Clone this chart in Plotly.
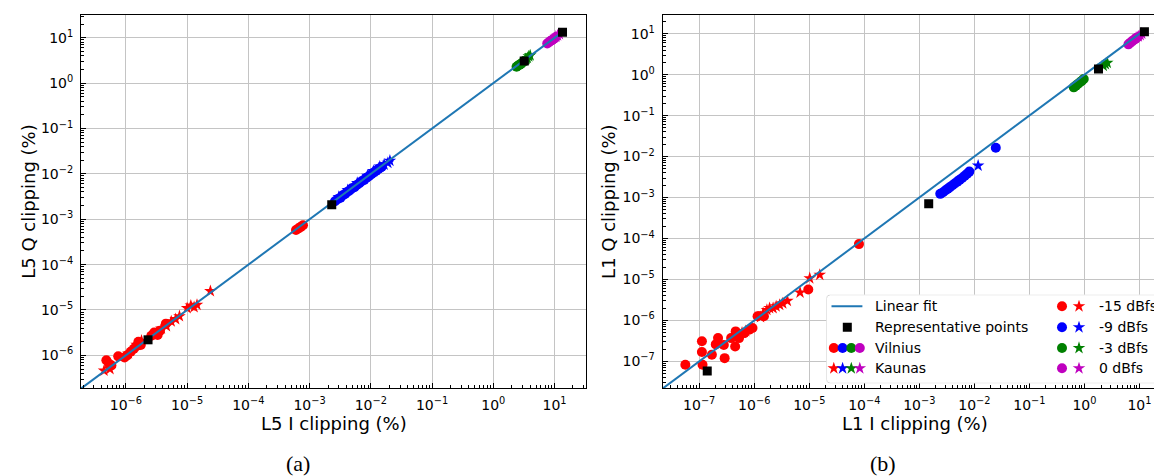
import numpy as np
import plotly.graph_objects as go

W, H = 1162, 476

# ---------------- data: panel (a) L5 ----------------
a_v15_x = [4.8e-7, 5.3e-7, 5.8e-7, 7.5e-7, 9.5e-7, 1.05e-6, 1.2e-6, 1.35e-6, 1.5e-6, 1.6e-6, 1.75e-6,
           2.6e-6, 2.9e-6, 3.1e-6, 3.3e-6, 3.6e-6, 4.5e-6, 6.0e-4, 6.6e-4, 7.2e-4, 7.8e-4]
a_v15_y = [7.8e-7, 6.5e-7, 6.0e-7, 9.5e-7, 9.0e-7, 1.0e-6, 1.2e-6, 1.4e-6, 1.6e-6, 2.0e-6, 1.7e-6,
           2.7e-6, 3.2e-6, 3.0e-6, 2.8e-6, 3.5e-6, 5.0e-6, 5.8e-4, 6.3e-4, 6.8e-4, 7.4e-4]
a_k15_x = [4.4e-7, 5.5e-7, 1.1e-6, 1.5e-6, 1.8e-6, 3.8e-6, 4.6e-6, 5.5e-6, 6.5e-6, 7.5e-6,
           1.0e-5, 1.15e-5, 1.3e-5, 1.45e-5, 2.4e-5]
a_k15_y = [4.6e-7, 5.0e-7, 1.1e-6, 1.7e-6, 2.1e-6, 3.9e-6, 4.4e-6, 5.6e-6, 6.3e-6, 7.3e-6,
           1.1e-5, 1.25e-5, 1.15e-5, 1.3e-5, 2.6e-5]
a_v9_x = [2.6e-3, 2.9e-3, 3.2e-3, 3.5e-3, 3.8e-3, 4.1e-3, 4.5e-3, 4.9e-3, 5.4e-3, 5.9e-3,
          6.5e-3, 7.1e-3, 7.8e-3, 8.5e-3, 9.3e-3, 1.02e-2, 1.12e-2, 1.23e-2, 1.35e-2, 1.5e-2]
a_v9_y = [2.5e-3, 2.8e-3, 3.0e-3, 3.4e-3, 3.6e-3, 4.0e-3, 4.3e-3, 4.8e-3, 5.1e-3, 5.7e-3,
          6.2e-3, 6.9e-3, 7.4e-3, 8.2e-3, 8.9e-3, 9.8e-3, 1.08e-2, 1.17e-2, 1.3e-2, 1.42e-2]
a_k9_x = [3.0e-3, 4.2e-3, 6.0e-3, 8.8e-3, 1.1e-2, 1.4e-2, 1.65e-2, 1.9e-2, 2.05e-2]
a_k9_y = [3.1e-3, 4.4e-3, 6.3e-3, 9.1e-3, 1.15e-2, 1.45e-2, 1.6e-2, 1.75e-2, 1.95e-2]
a_v3_x = [2.4, 2.55, 2.7, 2.85, 3.0, 3.3]
a_v3_y = [2.3, 2.45, 2.55, 2.7, 2.85, 3.1]
a_k3_x = [3.4, 3.6, 3.8, 4.0]
a_k3_y = [3.4, 3.6, 3.9, 4.1]
a_v0_x = [7.6, 8.1, 8.6, 9.2, 9.8, 10.4]
a_v0_y = [7.5, 8.0, 8.5, 9.0, 9.6, 10.2]
a_k0_x = [10.5, 11.2, 12.0]
a_k0_y = [10.6, 11.3, 12.1]
a_rep_x = [2.3e-6, 2.3e-3, 3.2, 13.5]
a_rep_y = [2.2e-6, 2.1e-3, 3.1, 13.3]

# ---------------- data: panel (b) L1 ----------------
b_v15_x = [5.6e-8, 1.12e-7, 1.12e-7, 1.15e-7, 1.7e-7, 2.0e-7, 2.2e-7, 2.8e-7, 2.9e-7, 3.8e-7,
           4.5e-7, 4.6e-7, 5.3e-7, 6.6e-7, 8.1e-7, 9.3e-7, 1.15e-6, 1.5e-6, 9.6e-6, 8.0e-5]
b_v15_y = [8.3e-8, 3.1e-7, 1.7e-7, 8.3e-8, 1.45e-7, 2.6e-7, 3.7e-7, 2.5e-7, 1.2e-7, 3.7e-7,
           2.3e-7, 5.4e-7, 3.7e-7, 4.9e-7, 5.9e-7, 6.5e-7, 1.26e-6, 1.26e-6, 5.7e-6, 7.3e-5]
b_k15_x = [6.0e-7, 7.0e-7, 1.3e-6, 1.45e-6, 1.7e-6, 1.9e-6, 2.2e-6, 2.5e-6, 2.9e-6, 3.3e-6,
           4.0e-6, 6.8e-6, 1.02e-5, 1.55e-5]
b_k15_y = [5.0e-7, 5.5e-7, 1.2e-6, 1.5e-6, 1.8e-6, 2.0e-6, 2.0e-6, 2.2e-6, 2.4e-6, 2.6e-6,
           3.0e-6, 4.8e-6, 1.07e-5, 1.3e-5]
b_v9_x = [2.4e-3, 2.7e-3, 3.0e-3, 3.3e-3, 3.6e-3, 4.0e-3, 4.4e-3, 4.9e-3, 5.4e-3, 6.0e-3,
          6.7e-3, 7.4e-3, 8.1e-3, 2.45e-2]
b_v9_y = [1.23e-3, 1.35e-3, 1.5e-3, 1.65e-3, 1.8e-3, 2.0e-3, 2.2e-3, 2.45e-3, 2.7e-3, 3.0e-3,
          3.4e-3, 3.8e-3, 4.3e-3, 1.65e-2]
b_k9_x = [1.17e-2]
b_k9_y = [6.0e-3]
b_v3_x = [0.64, 0.7, 0.76, 0.83, 0.9, 0.97]
b_v3_y = [0.49, 0.54, 0.59, 0.65, 0.71, 0.78]
b_k3_x = [2.2, 2.4, 2.6]
b_k3_y = [1.65, 1.8, 1.95]
b_v0_x = [6.3, 6.8, 7.3, 7.9, 8.5, 9.2]
b_v0_y = [5.5, 6.0, 6.5, 7.0, 7.6, 8.2]
b_k0_x = [9.5, 10.3, 11.0]
b_k0_y = [8.6, 9.3, 10.0]
b_rep_x = [1.4e-7, 1.48e-3, 1.8, 12.3]
b_rep_y = [5.8e-8, 7.1e-4, 1.37, 11.1]

# linear fit (log-log): slope, intercept
fit_slope = [1.0, 1.0]
fit_intercept = [0.0, 0.0]

tick_exps_a = [-6, -5, -4, -3, -2, -1, 0, 1]
tick_exps_b = [-7, -6, -5, -4, -3, -2, -1, 0, 1]

level_labels = ["-15 dBfs", "-9 dBfs", "-3 dBfs", "0 dBfs"]
level_colors = ["#ff0000", "#0000ff", "#008000", "#bf00bf"]
FIT_COLOR = "#1f77b4"
FONT = "DejaVu Sans"
CIRCLE_SIZE = 10
STAR_SIZE = 9.5

fig = go.Figure()

def pts(x, y, color, symbol, size, xa, ya):
    fig.add_trace(go.Scatter(x=x, y=y, mode="markers", xaxis=xa, yaxis=ya, showlegend=False,
                             marker=dict(color=color, symbol=symbol, size=size, line=dict(width=0))))

ranges = {
    "a": dict(x=[-6.733, 1.514], y=[-6.72, 1.51]),
    "b": dict(x=[-7.665, 1.5], y=[-7.65, 1.464]),
}

panels = [
    ("a", "x", "y", [(a_v15_x, a_v15_y), (a_v9_x, a_v9_y), (a_v3_x, a_v3_y), (a_v0_x, a_v0_y)],
     [(a_k15_x, a_k15_y), (a_k9_x, a_k9_y), (a_k3_x, a_k3_y), (a_k0_x, a_k0_y)], (a_rep_x, a_rep_y), 0),
    ("b", "x2", "y2", [(b_v15_x, b_v15_y), (b_v9_x, b_v9_y), (b_v3_x, b_v3_y), (b_v0_x, b_v0_y)],
     [(b_k15_x, b_k15_y), (b_k9_x, b_k9_y), (b_k3_x, b_k3_y), (b_k0_x, b_k0_y)], (b_rep_x, b_rep_y), 1),
]

for key, xa, ya, vil, kau, rep, i in panels:
    for (vx, vy), c in zip(vil, level_colors):
        pts(vx, vy, c, "circle", CIRCLE_SIZE, xa, ya)
    for (kx, ky), c in zip(kau, level_colors):
        pts(kx, ky, c, "star", STAR_SIZE, xa, ya)
    allx = np.concatenate([np.asarray(d[0]) for d in vil + kau] + [np.asarray(rep[0])])
    lx = np.array([ranges[key]["x"][0] - 0.5, np.log10(allx.max()) - 0.02])
    ly = fit_slope[i] * lx + fit_intercept[i]
    fig.add_trace(go.Scatter(x=10 ** lx, y=10 ** ly, mode="lines", xaxis=xa, yaxis=ya, showlegend=False,
                             line=dict(color=FIT_COLOR, width=2)))
    pts(rep[0], rep[1], "black", "square", 9, xa, ya)

def axis_style(domain, rng, exps, anchor):
    return dict(
        domain=domain, type="log", range=rng, anchor=anchor,
        tickmode="array", tickvals=[10.0 ** e for e in exps],
        ticktext=["10<sup>%s</sup>" % (str(e).replace("-", "\u2212")) for e in exps],
        showline=True, linecolor="black", linewidth=1, mirror=True,
        ticks="inside", ticklen=5, tickwidth=1, tickcolor="black",
        showgrid=True, gridcolor="#c4c4c4", gridwidth=1.2, zeroline=False,
        tickfont=dict(family=FONT, size=14, color="black"),
        minor=dict(ticks="inside", ticklen=3, tickwidth=0.8, tickcolor="black", showgrid=False, dtick="D1"),
        ticklabelstandoff=4,
    )

ydom = [1 - 380 / H, 1 - 6.7 / H]
fig.update_layout(
    width=W, height=H, margin=dict(l=0, r=0, t=0, b=0),
    paper_bgcolor="white", plot_bgcolor="white",
    xaxis=axis_style([73 / W, 578 / W], ranges["a"]["x"], tick_exps_a, "y"),
    yaxis=axis_style(ydom, ranges["a"]["y"], tick_exps_a, "x"),
    xaxis2=axis_style([654.6 / W, 1159 / W], ranges["b"]["x"], tick_exps_b, "y2"),
    yaxis2=axis_style(ydom, ranges["b"]["y"], tick_exps_b, "x2"),
    showlegend=False,
)

# ---------------- custom legend (panel b) ----------------
LX0, LX1, LY0, LY1 = 818.4, 1152.8, 286.7, 375.3
fig.update_layout(
    xaxis3=dict(domain=[LX0 / W, LX1 / W], range=[LX0, LX1], visible=False, anchor="y3", fixedrange=True),
    yaxis3=dict(domain=[1 - LY1 / H, 1 - LY0 / H], range=[LY1, LY0], visible=False, anchor="x3", fixedrange=True),
)
r = 4.0
t = np.linspace(0, np.pi / 2, 8)
corners = [(LX1 - r, LY0 + r, -np.pi / 2), (LX1 - r, LY1 - r, 0), (LX0 + r, LY1 - r, np.pi / 2), (LX0 + r, LY0 + r, np.pi)]
bx, by = [], []
for cx, cy, a0 in corners:
    bx += list(cx + r * np.cos(a0 + t))
    by += list(cy + r * np.sin(a0 + t))
bx.append(bx[0]); by.append(by[0])
fig.add_trace(go.Scatter(x=bx, y=by, xaxis="x3", yaxis="y3", mode="lines", fill="toself",
                         fillcolor="white", line=dict(color="#d0d0d0", width=1), showlegend=False))

rows = [298.3, 319.3, 340.0, 360.3]
fig.add_trace(go.Scatter(x=[823.5, 854.4], y=[rows[0]] * 2, xaxis="x3", yaxis="y3", mode="lines",
                         line=dict(color=FIT_COLOR, width=2), showlegend=False))
fig.add_trace(go.Scatter(x=[839.3], y=[rows[1]], xaxis="x3", yaxis="y3", mode="markers",
                         marker=dict(color="black", symbol="square", size=9), showlegend=False))
multi_x = [825.8, 834.6, 843.3, 851.8]
fig.add_trace(go.Scatter(x=multi_x, y=[rows[2]] * 4, xaxis="x3", yaxis="y3", mode="markers",
                         marker=dict(color=level_colors, symbol="circle", size=CIRCLE_SIZE, line=dict(width=0)), showlegend=False))
fig.add_trace(go.Scatter(x=multi_x, y=[rows[3]] * 4, xaxis="x3", yaxis="y3", mode="markers",
                         marker=dict(color=level_colors, symbol="star", size=STAR_SIZE, line=dict(width=0)), showlegend=False))
fig.add_trace(go.Scatter(x=[1054] * 4, y=rows, xaxis="x3", yaxis="y3", mode="markers",
                         marker=dict(color=level_colors, symbol="circle", size=CIRCLE_SIZE, line=dict(width=0)), showlegend=False))
fig.add_trace(go.Scatter(x=[1071] * 4, y=rows, xaxis="x3", yaxis="y3", mode="markers",
                         marker=dict(color=level_colors, symbol="star", size=STAR_SIZE, line=dict(width=0)), showlegend=False))

left_labels = ["Linear fit", "Representative points", "Vilnius", "Kaunas"]
ann = []
for lab, yy in zip(left_labels, rows):
    ann.append(dict(x=864.9, y=yy, xref="x3", yref="y3", text=lab, showarrow=False, xanchor="left",
                    yanchor="middle", font=dict(family=FONT, size=14, color="black")))
for lab, yy in zip(level_labels, rows):
    ann.append(dict(x=1088.8, y=yy, xref="x3", yref="y3", text=lab, showarrow=False, xanchor="left",
                    yanchor="middle", font=dict(family=FONT, size=14, color="black")))

# axis titles
def paper(x, y):
    return x / W, 1 - y / H
for text, x, y, ang in [("L5 I clipping (%)", 325.5, 415, 0), ("L1 I clipping (%)", 906.8, 415, 0),
                        ("L5 Q clipping (%)", 20.4, 193.4, -90), ("L1 Q clipping (%)", 600.5, 193.4, -90)]:
    px_, py_ = paper(x, y)
    ann.append(dict(x=px_, y=py_, xref="paper", yref="paper", text=text, showarrow=False, textangle=ang,
                    xanchor="center", yanchor="middle", font=dict(family=FONT, size=18, color="black")))
for text, x in [("(a)", 290.0), ("(b)", 874.8)]:
    px_, py_ = paper(x, 455.5)
    ann.append(dict(x=px_, y=py_, xref="paper", yref="paper", text=text, showarrow=False,
                    xanchor="center", yanchor="middle", font=dict(family="Liberation Serif", size=22, color="black")))
fig.update_layout(annotations=ann)

fig.write_html("out.html")
